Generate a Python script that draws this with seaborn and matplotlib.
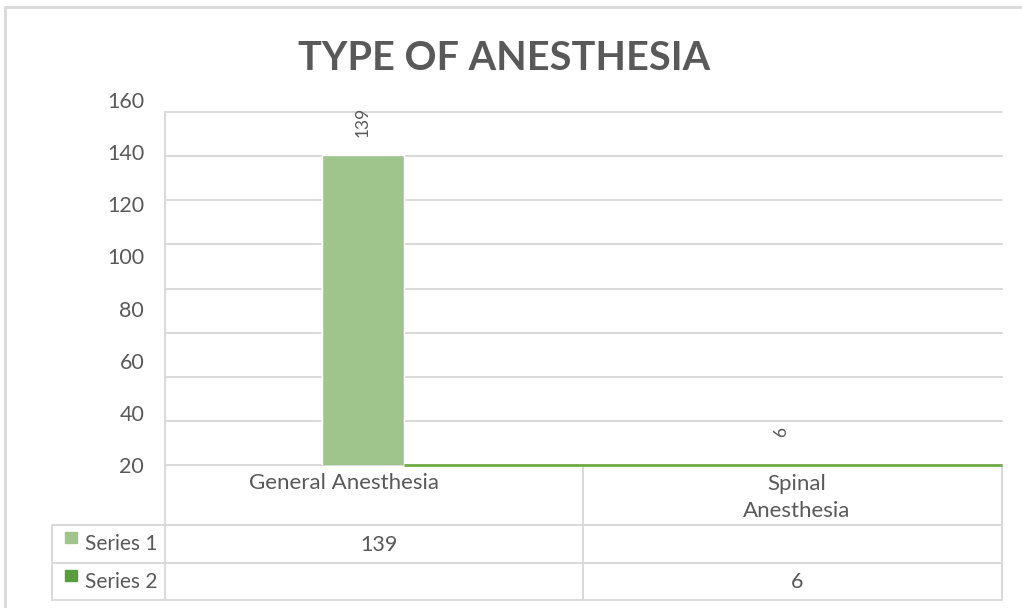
import matplotlib
matplotlib.use("Agg")
import matplotlib.pyplot as plt
from matplotlib.patches import Rectangle
import pandas as pd
import seaborn as sns

# ---- data ----
categories = ["General Anesthesia", "Spinal\nAnesthesia"]
series_names = ["Series 1", "Series 2"]
series1 = [139, None]
series2 = [None, 6]
y_ticks = [20, 40, 60, 80, 100, 120, 140, 160]
title = "TYPE OF ANESTHESIA"

# ---- style ----
colors = {"Series 1": "#9fc48c", "Series 2": "#5a9c3c"}
TEXT = "#595959"
GRID = "#d9d9d9"
EDGE_GREEN = "#70ad47"

sns.set_theme(style="white")
plt.rcParams["font.family"] = ["Lato", "DejaVu Sans"]

W, H = 1022, 608
fig = plt.figure(figsize=(W / 100, H / 100), dpi=100)


def box(x0, y0, x1, y1):
    """Pixel box (top-left origin) -> figure-fraction rect."""
    return [x0 / W, 1 - y1 / H, (x1 - x0) / W, (y1 - y0) / H]


# long-form frame built from the series lists
rows = []
for name, vals in zip(series_names, [series1, series2]):
    for cat, v in zip(categories, vals):
        if v is not None:
            rows.append({"category": cat, "series": name, "value": v})
df = pd.DataFrame(rows)

# overlay for frame, data table and title
ov = fig.add_axes([0, 0, 1, 1], zorder=0)
ov.set_xlim(0, W)
ov.set_ylim(H, 0)
ov.axis("off")

# horizontal grid of the plot area
grid_ax = fig.add_axes(box(165, 112, 1002, 465), zorder=1)
grid_ax.set_facecolor("none")
grid_ax.set_ylim(0, 8)
grid_ax.set_xlim(0, 1)
for k in range(9):
    grid_ax.axhline(k, color=GRID, lw=1.4, clip_on=False)
grid_ax.set_xticks([])
grid_ax.set_yticks([])
for s in grid_ax.spines.values():
    s.set_visible(False)

# value axis and bars
ax = fig.add_axes(box(165, 100, 1002, 465), zorder=2)
ax.set_facecolor("none")
sns.barplot(data=df, x="category", y="value", hue="series",
            order=categories, hue_order=series_names, palette=colors,
            dodge=False, width=0.196, ax=ax, legend=False, saturation=1)
ax.set_ylim(y_ticks[0], y_ticks[-1])
ax.set_xlim(-0.473, 1.527)
ax.set_yticks(y_ticks)
ax.tick_params(axis="y", length=0, pad=15, labelsize=15.5, labelcolor=TEXT)
ax.set_xticks([])
ax.set_xlabel("")
ax.set_ylabel("")
for s in ax.spines.values():
    s.set_visible(False)

# rotated value labels above each bar
ymin = ax.get_ylim()[0]
first_bar_right = None
for cont, vals in zip(ax.containers, [series1, series2]):
    present = [v for v in vals if v is not None]
    for bar, v in zip(cont, present):
        xc = bar.get_x() + bar.get_width() / 2
        ax.annotate(f"{v:g}", (xc, max(v, ymin + 4)), xytext=(0, 13),
                    textcoords="offset points", rotation=90, ha="center",
                    va="bottom", fontsize=12.5, color=TEXT, annotation_clip=False)
        if first_bar_right is None:
            first_bar_right = bar.get_x() + bar.get_width()

# series-colored baseline to the right of the first bar
ax.plot([first_bar_right, ax.get_xlim()[1]], [ymin, ymin], color=EDGE_GREEN,
        lw=2, clip_on=False, zorder=5, solid_capstyle="butt")

# ---- title ----
ov.text(504, 58, title, ha="center", va="center", fontsize=28.5,
        fontweight="bold", color=TEXT)

# ---- outer frame ----
ov.plot([5, W], [7, 7], color=GRID, lw=2)
ov.plot([5, 5], [7, H], color=GRID, lw=2)

# ---- data table ----
col_edges = [165, 583, 1002]
row_edges = [465, 525, 563, 600]
lc = dict(color=GRID, lw=1.4)
ov.plot([165, 165], [112, 600], **lc)
for xe in col_edges[1:]:
    ov.plot([xe, xe], [465, 600], **lc)
ov.plot([52, 52], [525, 600], **lc)
for ye in row_edges[1:]:
    ov.plot([52, 1002], [ye, ye], **lc)

cat_label_x = [344, 797]
line_step = 29
for cat, xc in zip(categories, cat_label_x):
    n_lines = cat.count("\n") + 1
    ov.text(xc, 483 + (n_lines - 1) * line_step / 2, cat, ha="center",
            va="center", fontsize=16, color=TEXT, linespacing=1.45)

for i, (name, vals) in enumerate(zip(series_names, [series1, series2])):
    yc = (row_edges[i + 1] + row_edges[i + 2]) / 2
    ov.add_patch(Rectangle((65, yc - 12), 12, 11, color=colors[name]))
    ov.text(85, yc, name, ha="left", va="center", fontsize=15, color=TEXT)
    for j, v in enumerate(vals):
        if v is not None:
            xc = (col_edges[j] + col_edges[j + 1]) / 2 + 5
            ov.text(xc, yc + 1, f"{v:g}", ha="center", va="center",
                    fontsize=15.5, color=TEXT)

fig.savefig("out.png", dpi=100, facecolor="white")
